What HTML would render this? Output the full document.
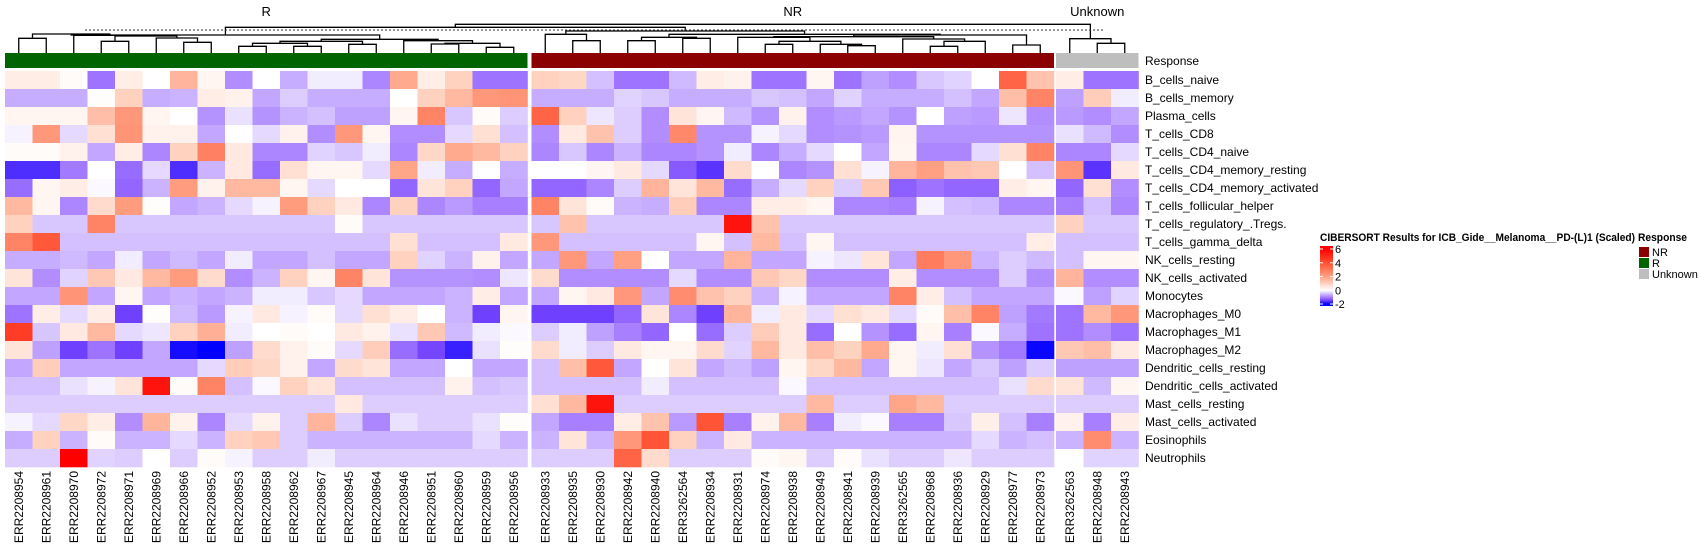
<!DOCTYPE html>
<html><head><meta charset="utf-8">
<style>
html,body{margin:0;padding:0;background:#fff;}
svg{display:block;font-family:"Liberation Sans",Arial,sans-serif;}
</style></head>
<body>
<svg id="chart" width="1700" height="550" viewBox="0 0 1700 550"></svg>
<script>
const cellTypes=["B_cells_naive","B_cells_memory","Plasma_cells","T_cells_CD8","T_cells_CD4_naive","T_cells_CD4_memory_resting","T_cells_CD4_memory_activated","T_cells_follicular_helper","T_cells_regulatory_.Tregs.","T_cells_gamma_delta","NK_cells_resting","NK_cells_activated","Monocytes","Macrophages_M0","Macrophages_M1","Macrophages_M2","Dendritic_cells_resting","Dendritic_cells_activated","Mast_cells_resting","Mast_cells_activated","Eosinophils","Neutrophils"];
const samplesR=["ERR2208954","ERR2208961","ERR2208970","ERR2208972","ERR2208971","ERR2208969","ERR2208966","ERR2208952","ERR2208953","ERR2208958","ERR2208962","ERR2208967","ERR2208945","ERR2208964","ERR2208946","ERR2208951","ERR2208960","ERR2208959","ERR2208956"];
const samplesNR=["ERR2208933","ERR2208935","ERR2208930","ERR2208942","ERR2208940","ERR3262564","ERR2208934","ERR2208931","ERR2208974","ERR2208938","ERR2208949","ERR2208941","ERR2208939","ERR3262565","ERR2208968","ERR2208936","ERR2208929","ERR2208977","ERR2208973"];
const samplesU=["ERR3262563","ERR2208948","ERR2208943"];
const valuesR=[
[0.4,0.4,0.1,-1.1,0.4,0,1.6,0.2,-0.9,0,-0.65,-0.15,-0.15,-0.95,1.8,0.4,1.0,-1.1,-1.1],
[-0.65,-0.65,-0.65,0.05,1.0,-0.65,-0.6,0.4,0.3,-0.7,-0.4,-0.65,-0.65,-0.65,0,1.0,1.5,2.2,2.3],
[0.2,0.2,0.2,1.4,2.2,0.2,0,-0.85,-0.25,-0.85,-0.6,-0.5,-0.75,-0.75,0.2,2.7,-0.45,0.1,-0.4],
[-0.1,2.2,-0.3,0.7,2.3,0.3,0.3,-0.7,0,-0.3,0.3,-0.9,2.2,0.2,-0.9,-0.9,-0.3,0.7,-0.5],
[0.1,0.1,0.3,-0.7,0.4,-0.95,1.0,2.8,0.5,-0.95,-0.95,-0.35,-0.45,-0.15,-0.95,0.9,1.8,1.5,1.0],
[-1.65,-1.65,-1.05,0,-1.15,-0.3,-1.65,-0.6,0.5,-1.15,0.7,0.2,0.2,-0.3,1.9,-0.15,-0.65,0,-0.65],
[-1.15,0.2,0.4,-0.05,-1.2,-0.6,2.1,0.3,1.5,1.5,0.2,-0.3,0,0,-1.2,0.6,1.0,-1.2,-0.7],
[1.5,0.2,-0.95,0.8,2.1,0.05,-0.7,-0.6,-0.3,-0.1,2.1,1.0,0.5,-0.95,1.0,-0.95,-0.8,-1.0,-1.0],
[1.0,-0.45,-0.45,2.7,-0.45,-0.45,-0.45,-0.45,-0.45,-0.45,-0.45,-0.45,0.1,-0.45,-0.45,-0.45,-0.45,-0.45,-0.45],
[2.7,3.8,-0.5,-0.5,-0.5,-0.5,-0.5,-0.5,-0.5,-0.5,-0.5,-0.5,-0.5,-0.5,0.7,-0.5,-0.5,-0.5,0.5],
[-0.65,-0.65,-0.55,-0.7,-0.15,-0.7,-0.55,-0.7,-0.15,-0.7,-0.7,-0.5,-0.7,-0.7,1.0,-0.35,-0.6,0.3,-0.7],
[0.6,-0.9,-0.35,1.2,0.5,1.5,2.1,0.8,-0.9,-0.6,1.0,0.2,2.7,0.6,-0.85,-0.85,-0.85,-0.9,-0.2],
[-0.7,-0.7,2.3,-0.7,0.2,-0.7,-0.6,-0.7,-0.6,-0.15,-0.15,-0.45,-0.3,-0.7,-0.7,-0.7,-0.6,0.4,-0.7],
[-1.1,0.4,-0.3,0.4,-1.5,0.05,-0.55,-0.8,-0.1,0.5,-0.1,0.1,-0.3,0.7,0.4,0,-0.6,-1.5,0.2],
[4.5,-0.45,0.5,1.5,-0.3,-0.2,1.0,1.7,-0.15,0,0.1,0,0.5,0.3,-0.25,1.2,-0.55,-0.15,-0.05],
[0.6,-0.75,-1.5,-1.1,-1.5,-0.7,-1.9,-2.0,-0.75,0.8,0.3,0.1,-0.3,1.1,-1.15,-1.45,-1.75,-0.25,0.05],
[-0.7,1.1,-0.7,-0.7,-0.7,-0.7,-0.7,-0.3,1.1,0.9,0.3,-0.7,0.8,0.6,-0.7,-0.7,0,-0.7,-0.7],
[-0.5,-0.5,-0.25,-0.1,0.6,5.5,0.1,2.7,-0.5,-0.05,1.0,0.6,-0.5,-0.5,-0.5,-0.5,0.3,-0.5,-0.45],
[-0.4,-0.4,-0.4,-0.4,-0.4,-0.4,-0.4,-0.4,-0.4,-0.4,-0.4,-0.4,0.5,-0.4,-0.4,-0.4,-0.4,-0.4,-0.4],
[-0.1,-0.3,0.9,0.4,-0.9,1.6,0.3,-0.95,-0.3,0.3,-0.4,1.6,-0.4,-0.95,-0.25,-0.4,-0.4,-0.25,0.05],
[-0.65,1.0,-0.6,0.1,-0.6,-0.6,-0.3,-0.6,1.0,1.2,-0.4,-0.6,-0.6,-0.6,-0.6,-0.6,-0.6,-0.3,-0.6],
[-0.4,-0.4,6,-0.35,-0.4,0,-0.4,0.1,-0.1,-0.4,-0.4,-0.15,-0.4,-0.4,-0.4,-0.4,-0.4,-0.4,-0.4]];
const valuesNR=[
[1.0,0.9,-0.5,-1.1,-1.1,-0.55,0.4,0.3,-1.1,-1.1,0.2,-1.1,-0.75,-0.9,-0.45,-0.35,0,3.5,1.3],
[-0.65,-0.65,-0.65,-0.35,-0.45,-0.65,-0.65,-0.65,-0.45,-0.5,-0.7,-0.35,-0.65,-0.65,-0.65,-0.5,-0.7,1.4,2.7],
[3.5,1.0,-0.2,-0.4,-0.9,0.6,0.2,-0.55,-0.85,0.3,-0.9,-0.8,-0.7,-0.85,0,-0.75,-0.8,-0.2,-0.9],
[-0.9,0.5,1.3,-0.4,-0.9,2.6,-0.85,-0.85,-0.1,-0.3,-0.9,-0.85,-0.8,0.25,-0.85,-0.85,-0.85,-0.85,-0.85],
[-0.95,-0.45,-0.95,-0.6,-0.95,-0.95,-0.85,-0.15,-0.95,-0.65,-0.3,0,-0.7,0.2,-0.95,-0.95,-0.3,0.7,2.7],
[0,0,0.2,0.5,-0.3,-1.3,-1.6,0.8,0,-0.95,-0.85,0.7,-0.1,1.6,2.0,1.3,1.2,0,-0.5],
[-1.2,-1.2,-0.95,-0.4,1.6,0.6,1.5,-1.15,-0.65,-0.3,1.0,-0.4,1.2,-1.25,-1.1,-1.2,-1.2,0.4,0.2],
[2.7,0.6,0.1,-0.6,-0.65,1.1,-0.95,-0.95,0.4,0.4,0.2,-0.95,-0.95,-1.0,-0.1,-0.5,-0.55,-0.95,-0.95],
[-0.45,1.3,-0.45,-0.45,-0.45,-0.45,-0.45,5.5,1.3,-0.45,-0.45,-0.45,-0.45,-0.45,-0.45,-0.45,-0.45,-0.45,-0.45],
[2.2,-0.5,-0.5,-0.5,-0.5,-0.5,0.2,-0.5,1.5,-0.5,0.2,-0.5,-0.5,-0.5,-0.5,-0.5,-0.5,-0.5,0.4],
[-0.7,2.2,-0.7,2.0,0,-0.7,-0.7,1.6,-0.7,-0.7,-0.1,-0.2,0.6,-0.7,2.9,2.2,-0.6,-0.4,-0.55],
[0.8,-0.9,-0.9,-0.9,-0.9,-0.3,-0.9,-0.9,1.2,0.9,-0.9,-0.9,-0.9,0.4,-0.9,-0.9,-0.9,-0.4,-0.9],
[-0.7,0.2,0.5,2.2,-0.7,2.5,1.3,1.0,-0.6,-0.1,-0.7,-0.7,-0.7,2.7,0.4,-0.5,-0.7,-0.7,-0.7],
[-1.5,-1.5,-1.5,-1.2,0.6,-0.95,-1.5,1.6,-0.15,0.5,-0.3,0.7,0.5,-0.3,0.1,1.4,2.7,-0.75,-1.05],
[-0.4,-0.15,-0.75,-1.0,-1.2,0,-1.15,-0.4,1.1,0.5,-1.15,0,-0.85,-1.15,0.2,-1.0,-0.05,-0.65,-1.1],
[0.8,-0.15,-0.4,0.5,0.2,0.2,0.8,-0.35,1.5,0.5,1.4,1.0,1.8,0.2,-0.15,0.7,-0.85,-1.05,-1.95],
[-0.5,1.4,3.8,-0.7,0,0.6,-0.7,-0.55,-0.75,0.2,0.9,1.5,-0.7,0.2,-0.2,-0.7,-0.45,-0.75,-0.4],
[-0.5,-0.5,-0.5,-0.5,-0.15,-0.5,-0.5,-0.5,-0.5,-0.05,-0.5,-0.5,-0.5,-0.5,-0.5,-0.5,-0.5,-0.25,0.8],
[0.7,1.5,5.5,-0.4,-0.4,-0.4,-0.4,-0.4,-0.4,-0.4,1.5,-0.4,-0.4,1.9,1.5,-0.4,-0.4,-0.4,-0.4],
[-0.7,-1.0,-1.0,0.4,1.3,-0.8,3.9,-1.0,0.3,1.5,-1.0,-0.15,-0.05,-1.0,-1.0,-0.45,0.35,-0.5,-1.0],
[-0.6,0.6,-0.6,2.2,3.9,1.0,-0.6,0.5,-0.6,-0.6,-0.6,-0.6,-0.6,-0.6,-0.6,-0.6,-0.3,-0.6,-0.5],
[-0.4,-0.4,-0.4,3.5,0.8,-0.4,-0.4,-0.4,0.1,0.2,-0.4,0.1,-0.25,-0.4,-0.4,-0.2,-0.4,-0.4,-0.4]];
const valuesU=[
[0.4,-1.1,-1.1],[-0.75,1.1,-0.15],[-0.8,-0.9,-0.7],[-0.25,-0.55,-0.9],[-0.95,-0.95,-0.3],
[2.3,-1.6,0.5],[-1.2,0.7,-0.9],[-1.0,-0.5,-0.95],[1.0,-0.45,-0.45],[-0.5,-0.5,-0.5],
[-0.5,0.2,0.2],[1.6,-0.9,-0.9],[-0.05,-0.75,-0.35],[-1.1,1.5,2.2],[-1.1,-0.9,-1.1],
[1.2,1.4,0.5],[-0.75,-0.75,-0.75],[0.6,-0.55,0.2],[-0.4,-0.4,-0.4],[0.3,-1.0,0.4],
[-0.6,2.5,-0.6],[0,-0.35,-0.35]];
const legendTicks=[6,4,2,0,-2];
const responseGroups=["NR","R","Unknown"];

const NS="http://www.w3.org/2000/svg";
const svgEl=document.getElementById("chart");
function mk(tag,attrs,parent){const e=document.createElementNS(NS,tag);for(const k in attrs)e.setAttribute(k,attrs[k]);(parent||svgEl).appendChild(e);return e;}
const colorStops=[[-2,[0,0,255]],[-1.5,[112,64,255]],[-1,[168,128,255]],[-0.5,[212,192,255]],[0,[255,255,255]],[1,[255,210,192]],[2,[255,160,130]],[3,[255,120,90]],[4,[255,80,50]],[6,[255,0,0]]];
function colorOf(v){
  if(v<=colorStops[0][0])return "rgb(0,0,255)";
  for(let i=1;i<colorStops.length;i++){if(v<=colorStops[i][0]){const a=colorStops[i-1],b=colorStops[i];const t=(v-a[0])/(b[0]-a[0]);
    return "rgb("+a[1].map((c,j)=>Math.round(c+(b[1][j]-c)*t)).join(",")+")";}}
  return "rgb(255,0,0)";
}
const colW=27.5,rowH=18,topY=71;
const groups=[{name:"R",x0:5,samples:samplesR,vals:valuesR,col:"#006400"},{name:"NR",x0:531.5,samples:samplesNR,vals:valuesNR,col:"#8b0000"},{name:"Unknown",x0:1056,samples:samplesU,vals:valuesU,col:"#bebebe"}];
function yRow(r){return topY+r*rowH;}
const leafX=[];
groups.forEach(g=>{
  const gg=mk("g",{});
  
  
  const bar=mk("rect",{x:g.x0,y:53,width:g.samples.length*colW,height:15,fill:g.col},gg);
  
  
  const gl=mk("text",{x:g.x0+g.samples.length*colW/2,y:16,"font-size":13,"text-anchor":"middle",fill:"#000"},gg);
  gl.textContent=g.name;
  
  
  g.samples.forEach((s,c)=>{
    const cx=g.x0+c*colW;
    leafX.push(cx+colW/2);
    cellTypes.forEach((ct,r)=>{
      const cell=mk("rect",{x:cx,y:yRow(r),width:colW+0.3,height:rowH+0.3,fill:colorOf(g.vals[r][c])},gg);
      
      
    });
    const t=mk("text",{transform:"translate("+(cx+colW/2+4)+",471) rotate(-90)","font-size":12,"text-anchor":"end",fill:"#000"},gg);
    t.textContent=s;
    
    
  });
});
const rl=mk("text",{x:1145,y:65,"font-size":12,fill:"#000"});
rl.textContent="Response";


cellTypes.forEach((ct,r)=>{
  const t=mk("text",{x:1145,y:yRow(r)+rowH/2+4,"font-size":12,fill:"#000"});
  t.textContent=ct;
  
  
});
const dendroNodes={
a:[0,1,38.3],b:[3,4,41.3],c:[6,7,42.3],d:[5,"c",38],e:["b","d",36],f:[2,"e",35.3],g:["a","f",34],
h:[8,9,46.3],i:[10,11,46.3],j:["h","i",43.3],k:[12,13,44.3],l:["j","k",41.3],m:[15,16,44],n:[17,18,47.3],o:["m","n",43.3],p:[14,"o",40.7],q:["l","p",39.3],rR:["g","q",35],
n1:[20,21,40.7],n0:[19,"n1",34.3],n2:[22,23,40.7],n3:[24,25,38.3],n4:["n2","n3",37.3],y1:[27,28,44.3],y2:[30,31,45.7],y3:[29,"y2",44.3],y4:["y1","y3",41.3],y5:[26,"y4",37.3],
z1:[33,34,46.3],z2:["z1",35,41.3],z3:[32,"z2",39],Y:["y5","z3",36.7],W:[36,37,45],X1:["Y","W",35],X:["n4","X1",34.3],NR:["n0","X",31],
u1:[39,40,43.3],U:[38,"u1",38.7],RN:["rR","NR",27.3],root:["RN","U",24.3]};
const dg=mk("g",{stroke:"#000","stroke-width":1.3,fill:"none"});


function pos(id){
  if(typeof id==="number")return [leafX[id],53];
  const n=dendroNodes[id];const L=pos(n[0]),R=pos(n[1]);
  mk("path",{d:"M"+L[0]+","+L[1]+"V"+n[2]+"H"+R[0]+"V"+R[1]},dg);
  return [(L[0]+R[0])/2,n[2]];
}
pos("root");
const dash=mk("line",{x1:85,y1:30,x2:1104,y2:30,stroke:"#333","stroke-dasharray":"2,2","stroke-width":1});


const lg=mk("g",{});


const lt=mk("text",{x:1320,y:241,"font-size":11,"font-weight":"bold",fill:"#000",textLength:315,lengthAdjust:"spacingAndGlyphs"},lg);
lt.textContent="CIBERSORT Results for ICB_Gide__Melanoma__PD-(L)1 (Scaled)";
const defs=mk("defs",{});
const grad=mk("linearGradient",{id:"cg",x1:0,y1:0,x2:0,y2:1},defs);
const y6=249,y2n=304;
const yOf=v=>y6+(6-v)/(8)*(y2n-y6);
[6,4,2,0,-0.5,-1,-1.5,-2].forEach(v=>mk("stop",{offset:((yOf(v)-246)/(306-246)),"stop-color":colorOf(v)},grad));
mk("rect",{x:1320,y:246,width:13,height:60,fill:"url(#cg)"},lg);
legendTicks.forEach(v=>{
  mk("line",{x1:1320,x2:1323,y1:yOf(v),y2:yOf(v),stroke:"#fff"},lg);
  mk("line",{x1:1330,x2:1333,y1:yOf(v),y2:yOf(v),stroke:"#fff"},lg);
  const t=mk("text",{x:1335,y:yOf(v)+4,"font-size":11,fill:"#000"},lg);
  t.textContent=String(v);
  
  
});
const rg=mk("g",{});


const rt=mk("text",{x:1638,y:241,"font-size":11,"font-weight":"bold",fill:"#000",textLength:49,lengthAdjust:"spacingAndGlyphs"},rg);
rt.textContent="Response";
const rcols={"NR":"#8b0000","R":"#006400","Unknown":"#bebebe"};
responseGroups.forEach((g,i)=>{
  const r=mk("rect",{x:1639,y:247+i*11,width:10,height:10,fill:rcols[g]},rg);
  
  
  const t=mk("text",{x:1652,y:256+i*11,"font-size":11,fill:"#000"},rg);
  t.textContent=g;
});
</script>
</body></html>
